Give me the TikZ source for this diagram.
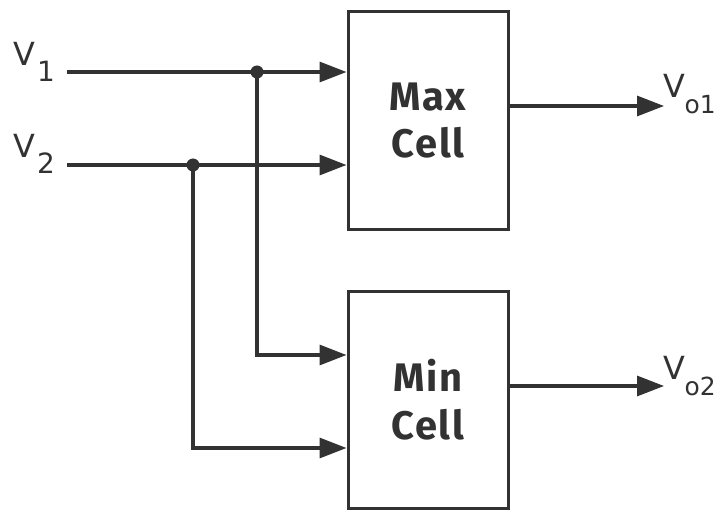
\documentclass[tikz,border=0pt]{standalone}
\usepackage{fontspec}
\setmainfont{Fira Sans}
\newfontfamily\cellfont[LetterSpace=4]{Fira Sans}
\newfontfamily\labfont{DejaVu Sans}
\usetikzlibrary{arrows.meta}
\definecolor{ink}{RGB}{50,50,50}
\newcommand{\sublab}[3]{#1\kern#3\raisebox{-16bp}{\fontsize{#2}{30}\selectfont\labsub}}
\newcommand{\inlab}[2]{#1\kern2bp\raisebox{-16bp}{\fontsize{28}{30}\selectfont #2}}
\newcommand{\outlab}[2]{#1\kern-0.5bp\raisebox{-16bp}{\fontsize{25}{30}\selectfont #2}}
\begin{document}
\begin{tikzpicture}[x=1bp,y=-1bp,
  cell/.style={draw=ink, line width=3bp, minimum width=160bp, minimum height=217bp,
    inner sep=0pt, align=center, text=ink,
    font=\cellfont\bfseries\fontsize{40}{48}\selectfont},
  wire/.style={draw=ink, line width=3.2bp, -{Triangle[length=27bp,width=20bp]}},
  lab/.style={anchor=base west, inner sep=0pt, text=ink, font=\labfont\fontsize{32}{36}\selectfont},
  dot/.style={circle, fill=ink, inner sep=0pt, minimum size=13bp}]
\useasboundingbox (0,0) rectangle (720,511);
\fill[white] (0,0) rectangle (720,511);
\node[cell] (max) at (428,120.5) {Max\\Cell};
\node[cell] (min) at (428,400) {Min\\Cell};
% labels
\node[lab] (lv1) at (13,66) {\inlab{V}{1}};
\node[lab] (lv2) at (13,158) {\inlab{V}{2}};
\node[lab] (lo1) at (663,98) {\outlab{V}{o1}};
\node[lab] (lo2) at (663,379) {\outlab{V}{o2}};
% coordinates
\coordinate (a1) at (67,72);
\coordinate (a2) at (67,165);
\node[dot] (j1) at (257,72) {};
\node[dot] (j2) at (193,165) {};
\coordinate (r1) at (0,355);
\coordinate (r2) at (0,448);
\coordinate (o1) at (664,106);
\coordinate (o2) at (664,386);
% wires
\draw[wire] (a1) -- (a1 -| max.west);
\draw[wire] (a2) -- (a2 -| max.west);
\draw[wire] (j1.center) |- (min.west |- r1);
\draw[wire] (j2.center) |- (min.west |- r2);
\draw[wire] (max.east |- o1) -- (o1);
\draw[wire] (min.east |- o2) -- (o2);
\end{tikzpicture}
\end{document}
